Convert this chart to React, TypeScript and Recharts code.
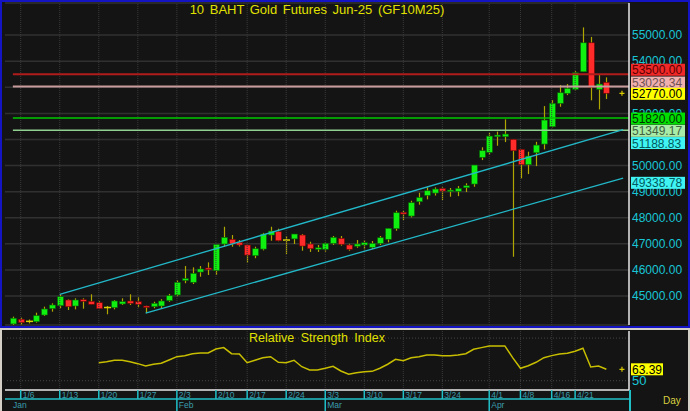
import React from 'react'
import {
  ComposedChart, Bar, Line, XAxis, YAxis, CartesianGrid, ReferenceLine, ReferenceDot,
} from 'recharts'

// trading-day index 0 = 1/3, last = 4/25
const opens = [
  43930, 44110, 44030, 44017, 44273, 44515, 44630, 44848, 44618, 44860,
  44798, 44744, 44560, 44553, 44696, 44810, 44783, 44618, 44591, 44618,
  44822, 45040, 45594, 45526, 45920, 46075, 45970, 46993, 47173, 47058,
  46955, 46545, 46800, 47338, 47465, 47146, 47190, 47338, 46993, 46800,
  46790, 47020, 47212, 46955, 46910, 46955, 46867, 47020, 47173, 47580,
  48210, 48066, 48614, 48858, 48947, 49127, 49010, 49010, 49150, 49292,
  50315, 50506, 51104, 51104, 51004, 50620, 50032, 50490, 50824, 51487,
  52383, 52766, 52920, 53594, 54705, 52920, 53188,
]
const highs = [
  44210, 44170, 44100, 44362, 44592, 44721, 45066, 44874, 44913, 44913,
  45066, 44800, 44620, 44848, 44913, 45066, 44950, 44630, 44783, 44880,
  45080, 45600, 46150, 46100, 46150, 46290, 46982, 47656, 47338, 47146,
  46955, 46890, 47420, 47656, 47580, 47300, 47376, 47376, 47080, 46955,
  47050, 47300, 47300, 47000, 47146, 47146, 47108, 47300, 47595, 48270,
  48270, 48652, 48958, 49165, 49165, 49165, 49140, 49215, 49320, 50020,
  50700, 51257, 51300, 51770, 51015, 50620, 50530, 50910, 52280, 52510,
  53085, 53123, 53620, 55295, 54930, 53468, 53380,
]
const lows = [
  43890, 43910, 43950, 43980, 44235, 44400, 44530, 44465, 44490, 44515,
  44683, 44500, 44300, 44490, 44657, 44657, 44570, 44345, 44530, 44520,
  44780, 44990, 45490, 45460, 45740, 45805, 45805, 46890, 46890, 46900,
  46278, 46450, 46750, 47120, 47100, 46610, 46993, 46737, 46690, 46690,
  46700, 46960, 46930, 46737, 46850, 46790, 46800, 46955, 47058, 47503,
  47910, 48015, 48500, 48705, 48850, 48680, 48806, 48830, 48985, 49190,
  50210, 50415, 50760, 50900, 46505, 49510, 49675, 49980, 50620, 51465,
  52253, 52700, 52880, 53590, 52500, 52153, 52550,
]
const closes = [
  44150, 43980, 44030, 44247, 44503, 44657, 44975, 44591, 44848, 44798,
  44683, 44515, 44560, 44810, 44783, 44720, 44683, 44590, 44720, 44810,
  45014, 45526, 45670, 45870, 46036, 46010, 46982, 47250, 46993, 46955,
  46570, 46813, 47376, 47491, 47120, 47146, 47376, 46916, 46813, 46850,
  47020, 47250, 46982, 46790, 46993, 47045, 47020, 47235, 47595, 48193,
  48142, 48576, 48780, 49035, 49100, 49024, 49060, 49127, 49227, 50020,
  50570, 51130, 51170, 51207, 50567, 50032, 50364, 50785, 51744, 52383,
  52790, 52958, 53556, 54705, 52996, 53123, 52770,
]
const rsiValues: (number | null)[] = [
  null, null, null, null, null, null, null, null, null, null,
  null, 71.2, 72.3, 74.0, 74.0, 72.3, 70.0, 67.3, 69.3, 70.4,
  74.3, 78.2, 79.4, 81.7, 82.5, 82.5, 87.2, 88.8, 81.7, 81.4,
  71.2, 74.0, 77.0, 78.2, 71.6, 71.2, 74.0, 66.4, 62.6, 62.6,
  64.6, 66.9, 61.4, 57.5, 59.4, 60.6, 61.0, 64.6, 69.3, 75.1,
  73.5, 77.0, 78.2, 80.2, 80.2, 79.4, 79.4, 80.2, 81.7, 86.9,
  88.8, 90.8, 90.8, 90.8, 77.0, 64.6, 67.6, 71.6, 77.0, 79.4,
  81.4, 82.2, 84.5, 88.1, 66.1, 67.3, 63.39,
]

const weekTicks = [1, 6, 11, 16, 21, 26, 30, 35, 40, 45, 50, 55, 61, 65, 69, 72]
const weekLabels = ['1/6', '1/13', '1/20', '1/27', '2/3', '2/10', '2/17', '2/24', '3/3', '3/10', '3/17', '3/24', '4/1', '4/8', '4/16', '4/21']
const monthTicks = [-0.25, 21, 40, 61]
const monthLabels = ['Jan', 'Feb', 'Mar', 'Apr']
const priceTicks = [45000, 46000, 47000, 48000, 49000, 50000, 51000, 52000, 53000, 54000, 55000]
// price labels fully hidden behind the flags in the original
const hiddenPriceLabels = [51000, 53000]
const rsiTicks = [50]
const rsiGrid = [50, 100]

// horizontal levels drawn from the first bar to the right edge
const levelValues = [53500, 53028.34, 51820, 51349.17]
// channel end points: [x index, price]
const upperChannel = [[6, 45066], [78.15, 51377]]
const lowerChannel = [[17, 44345], [78.15, 49521]]
// values flagged on the price axis
const axisFlags = [53500, 53028.34, 52770, 51820, 51349.17, 51188.83, 49338.78]
const lastPrice = 52770
const lastRsi = 63.39

const xDomain: [number, number] = [-1.01, 78.9]
const priceDomain: [number, number] = [43890, 56230]
const rsiDomain: [number, number] = [39.1, 108.3]

const levelStyle = [
  { stroke: '#b01c1c', width: 2 },
  { stroke: '#c89c9c', width: 2 },
  { stroke: '#00c800', width: 1.5 },
  { stroke: '#90d090', width: 1.5 },
]
const flagStyle = [
  { bg: '#f02828', fg: '#5a0000', dy: -4.5 },
  { bg: '#f0b0b0', fg: '#6e5050', dy: -4 },
  { bg: '#ffff00', fg: '#000000', dy: 0.5 },
  { bg: '#00e000', fg: '#003000', dy: 0.5 },
  { bg: '#a8eca8', fg: '#406040', dy: 0.5 },
  { bg: '#40f4f4', fg: '#005a60', dy: 8.5 },
  { bg: '#40f4f4', fg: '#005a60', dy: 0 },
]

const candles = opens.map((o, i) => ({
  i, open: o, high: highs[i], low: lows[i], close: closes[i], rsi: rsiValues[i],
}))

const minorPrice = Array.from({ length: 62 }, (_, k) => 44000 + k * 200)
const minorRsi = Array.from({ length: 14 }, (_, k) => 40 + k * 5)

const CYAN = '#18c6d6'
const FONT = 'Arial, "Liberation Sans", sans-serif'
const VGRID = '#3a3a3a'

function Candle(props: any) {
  const { x, y, width, height, payload } = props
  if (x == null || !payload) return null
  const { open, close, high, low } = payload
  const top = Math.min(y, y + height)
  const span = Math.abs(height)
  const k = span / (high - low || 1)
  const py = (v: number) => top + (high - v) * k
  const cx = Math.round(x + width / 2) + 0.5
  const bTop = py(Math.max(open, close))
  const bBot = py(Math.min(open, close))
  const up = close > open
  return (
    <g>
      <line x1={cx} x2={cx} y1={top} y2={top + span} stroke="#b0a600" strokeWidth={1.2} />
      {open === close ? (
        <line x1={cx - 3.5} x2={cx + 3.5} y1={bTop} y2={bTop} stroke="#d8d000" strokeWidth={1.5} />
      ) : (
        <rect
          x={cx - 3} y={bTop} width={6} height={Math.max(bBot - bTop, 1.5)}
          fill={up ? '#10f010' : '#ff2a2a'} stroke={up ? '#046004' : '#700000'} strokeWidth={0.6}
        />
      )}
    </g>
  )
}

function Flag({ viewBox, text, bg, fg, dy, w = 54 }: any) {
  if (!viewBox) return null
  const x = viewBox.x + viewBox.width + 2
  const y = viewBox.y + dy
  return (
    <g>
      <rect x={x} y={y - 6} width={w} height={12} fill={bg} />
      <text x={x + 1} y={y + 4.5} fill={fg} fontSize={12} fontFamily={FONT}>{text}</text>
    </g>
  )
}

function Cross(props: any) {
  const { cx, cy } = props
  return <path d={`M${cx - 2.5},${cy}H${cx + 2.5}M${cx},${cy - 2.5}V${cy + 2.5}`} stroke="#d8c800" strokeWidth={1.2} />
}

function WeekTick(props: any) {
  const { x, y, payload } = props
  const idx = weekTicks.indexOf(payload.value)
  return (
    <g>
      <line x1={x} x2={x} y1={y} y2={y + 9} stroke="#20c0c8" strokeWidth={1.5} />
      <text x={x + 2} y={y + 7.5} fill="#3a9cac" fontSize={8.5} fontFamily={FONT}>{weekLabels[idx]}</text>
    </g>
  )
}

function MonthTick(props: any) {
  const { x, y, payload } = props
  const idx = monthTicks.indexOf(payload.value)
  return (
    <g>
      {payload.value > 0 && <line x1={x} x2={x} y1={y} y2={y + 12} stroke="#20c0c8" strokeWidth={1.5} />}
      <text x={x + 2} y={y + 9} fill="#3a9cac" fontSize={8.5} fontFamily={FONT}>{monthLabels[idx]}</text>
    </g>
  )
}

function PriceChart() {
  return (
    <ComposedChart width={690} height={328} data={candles} margin={{ top: 3, right: 5, bottom: 3, left: 5 }}>
      <XAxis dataKey="i" type="number" domain={xDomain} allowDataOverflow ticks={weekTicks} interval={0}
        height={0} tick={false} tickLine={false} axisLine={false} />
      <YAxis yAxisId="p" orientation="right" width={56} domain={priceDomain} allowDataOverflow ticks={priceTicks}
        tickFormatter={(v: number) => (hiddenPriceLabels.includes(v) ? '' : v.toFixed(2))}
        tick={{ fill: CYAN, fontSize: 12, fontFamily: FONT }}
        tickLine={false} tickSize={0} tickMargin={3} axisLine={{ stroke: '#e8e8e8', strokeWidth: 1.5 }} />
      <YAxis yAxisId="rm" orientation="right" mirror width={0} domain={priceDomain} allowDataOverflow ticks={minorPrice}
        tick={false} tickSize={2.5} tickLine={{ stroke: '#e0e0e0' }} axisLine={false} />
      <YAxis yAxisId="rM" orientation="right" mirror width={0} domain={priceDomain} allowDataOverflow ticks={priceTicks}
        tick={false} tickSize={4} tickLine={{ stroke: '#e0e0e0' }} axisLine={false} />
      <YAxis yAxisId="lm" orientation="left" mirror width={0} domain={priceDomain} allowDataOverflow ticks={minorPrice}
        tick={false} tickSize={2.5} tickLine={{ stroke: '#d0d0d0' }} axisLine={{ stroke: '#9a9a9a' }} />
      <YAxis yAxisId="lM" orientation="left" mirror width={0} domain={priceDomain} allowDataOverflow ticks={priceTicks}
        tick={false} tickSize={4} tickLine={{ stroke: '#d0d0d0' }} axisLine={false} />
      <CartesianGrid yAxisId="p" vertical={false} stroke="#303030" strokeWidth={1.5} />
      {weekTicks.map((t) => (
        <ReferenceLine key={'vg' + t} yAxisId="p" x={t} stroke={VGRID} strokeDasharray="1 1" />
      ))}

      {levelValues.map((v, k) => (
        <ReferenceLine key={'lv' + v} yAxisId="p" segment={[{ x: 0, y: v }, { x: xDomain[1], y: v }]}
          stroke={levelStyle[k].stroke} strokeWidth={levelStyle[k].width} />
      ))}
      <ReferenceLine yAxisId="p" segment={upperChannel.map(([x, y]) => ({ x, y }))} stroke="#22b8c8" strokeWidth={1.3} />
      <ReferenceLine yAxisId="p" segment={lowerChannel.map(([x, y]) => ({ x, y }))} stroke="#22b8c8" strokeWidth={1.3} />

      <Bar yAxisId="p" dataKey={(d: any) => [d.low, d.high]} barSize={6} shape={<Candle />} isAnimationActive={false} />

      <ReferenceDot yAxisId="p" x={78} y={lastPrice} r={3} shape={<Cross />} />
    </ComposedChart>
  )
}

// flags painted on top of the price axis labels
function FlagLayer() {
  return (
    <ComposedChart width={690} height={328} data={candles} margin={{ top: 3, right: 61, bottom: 3, left: 5 }}>
      <XAxis dataKey="i" type="number" domain={xDomain} allowDataOverflow hide />
      <YAxis yAxisId="p" domain={priceDomain} allowDataOverflow hide />
      {axisFlags.map((v, k) => (
        <ReferenceLine key={'fl' + v} yAxisId="p" y={v} stroke="none"
          label={(p: any) => <Flag viewBox={p.viewBox} text={v.toFixed(2)} {...flagStyle[k]} />} />
      ))}
    </ComposedChart>
  )
}

function RsiChart() {
  return (
    <ComposedChart width={690} height={81} data={candles} margin={{ top: 1, right: 5, bottom: 0, left: 5 }}>
      <XAxis xAxisId="a" dataKey="i" type="number" domain={xDomain} allowDataOverflow ticks={weekTicks} interval={0}
        height={9} tickSize={0} tickMargin={0} tickLine={false} axisLine={{ stroke: '#e8e8e8', strokeWidth: 1.5 }} tick={<WeekTick />} />
      <XAxis xAxisId="b" dataKey="i" type="number" domain={xDomain} allowDataOverflow ticks={monthTicks} interval={0}
        height={12} tickSize={0} tickMargin={0} tickLine={false} axisLine={{ stroke: '#20c0c8', strokeWidth: 1.5 }} tick={<MonthTick />} />
      <YAxis yAxisId="v" orientation="right" width={56} domain={rsiDomain} allowDataOverflow ticks={rsiTicks}
        tick={{ fill: CYAN, fontSize: 13, fontFamily: FONT }} tickLine={false} tickSize={0} tickMargin={3}
        axisLine={{ stroke: '#e8e8e8', strokeWidth: 1.5 }} />
      <YAxis yAxisId="rm" orientation="right" mirror width={0} domain={rsiDomain} allowDataOverflow ticks={minorRsi}
        tick={false} tickSize={3} tickLine={{ stroke: '#e0e0e0' }} axisLine={false} />
      <YAxis yAxisId="lm" orientation="left" mirror width={0} domain={rsiDomain} allowDataOverflow ticks={minorRsi}
        tick={false} tickSize={3} tickLine={{ stroke: '#d0d0d0' }} axisLine={{ stroke: '#9a9a9a' }} />
      {weekTicks.map((t) => (
        <ReferenceLine key={'vg' + t} xAxisId="a" yAxisId="v" x={t} stroke={VGRID} strokeDasharray="1 1" />
      ))}
      {rsiGrid.map((v) => (
        <ReferenceLine key={'rg' + v} xAxisId="a" yAxisId="v" y={v} stroke="#3a3a3a" strokeWidth={1.2} strokeDasharray="1 2" />
      ))}

      <Line xAxisId="a" yAxisId="v" dataKey="rsi" stroke="#c8be00" strokeWidth={1.5} dot={false}
        isAnimationActive={false} connectNulls={false} />

      <ReferenceDot xAxisId="a" yAxisId="v" x={78} y={lastRsi} r={3} shape={<Cross />} />
      <ReferenceLine xAxisId="a" yAxisId="v" y={lastRsi} stroke="none"
        label={(p: any) => <Flag viewBox={p.viewBox} text={lastRsi.toFixed(2)} bg="#ffff00" fg="#000" dy={0} w={32} />} />
    </ComposedChart>
  )
}

export default function App() {
  return (
    <div style={{ position: 'relative', width: 690, height: 411, background: '#d4d0c8', overflow: 'hidden', fontFamily: FONT }}>
      <style>{'body{margin:0}'}</style>
      <div style={{ position: 'absolute', left: 0, top: 0, width: 690, height: 328, boxSizing: 'border-box', border: '2px solid #1414c4', background: '#141414' }} />
      <div style={{ position: 'absolute', left: 2, top: 330, width: 686, height: 81, background: '#141414' }} />
      <div style={{ position: 'absolute', left: 0, top: 0 }}><PriceChart /></div>
      <div style={{ position: 'absolute', left: 0, top: 0 }}><FlagLayer /></div>
      <div style={{ position: 'absolute', left: 0, top: 330 }}><RsiChart /></div>
      <div style={{ position: 'absolute', left: 629, top: 390, width: 1.5, height: 21, background: '#20c0c8' }} />
      <div style={{ position: 'absolute', left: 5, width: 624, top: 2, textAlign: 'center', color: '#e0e000', fontSize: 13, wordSpacing: 2 }}>
        10 BAHT Gold Futures Jun-25 (GF10M25)
      </div>
      <div style={{ position: 'absolute', left: 5, width: 624, top: 331, textAlign: 'center', color: '#e0e000', fontSize: 12.5, wordSpacing: 3 }}>
        Relative Strength Index
      </div>
      <div style={{ position: 'absolute', left: 663, top: 395, color: '#d8d040', fontSize: 10 }}>Day</div>
    </div>
  )
}
